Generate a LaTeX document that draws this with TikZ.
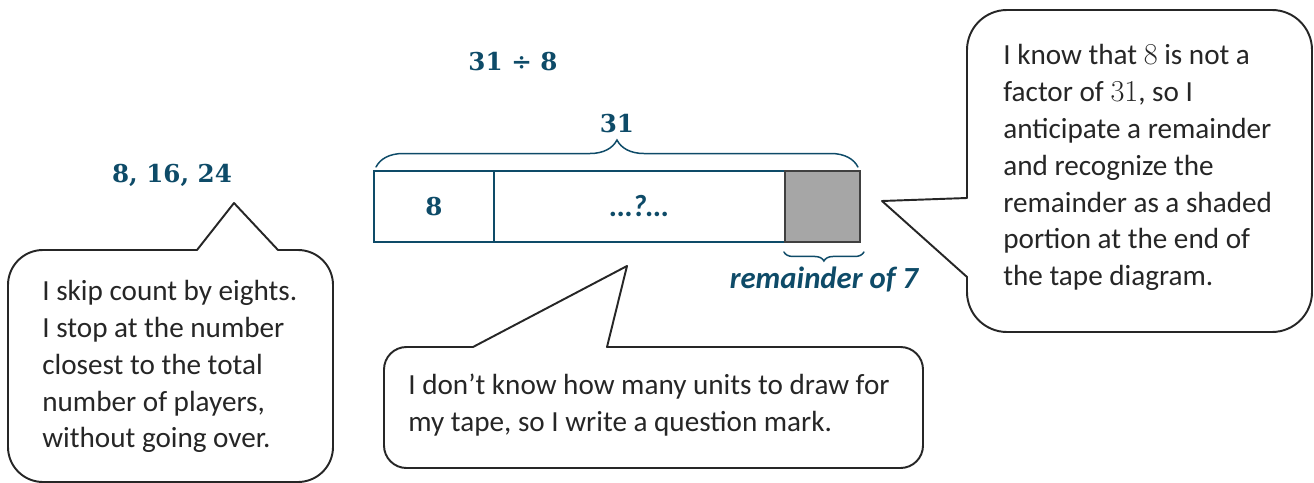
\documentclass[tikz,border=0pt]{standalone}
\usepackage{fontspec}
\setmainfont{Carlito}
\newfontfamily\numfont{DejaVu Serif}
\usetikzlibrary{calc}
\usetikzlibrary{decorations.pathreplacing}

\definecolor{tapeteal}{HTML}{0E4B68}
\definecolor{inkgray}{HTML}{262626}
\definecolor{remfill}{HTML}{A6A6A6}
\definecolor{remline}{HTML}{404040}

\begin{document}
\begin{tikzpicture}[x=0.02cm, y=-0.02cm]

\useasboundingbox (0,0) rectangle (1314,483);

\tikzstyle{head label} = [text=tapeteal, inner sep=0pt, font=\numfont\bfseries\fontsize{14}{17}\selectfont]
\tikzstyle{tape label} = [text=tapeteal, inner sep=0pt, font=\bfseries\itshape\fontsize{17.5}{20}\selectfont]
\tikzstyle{tape cell} = [draw=tapeteal, line width=1.4pt, minimum height=1.42cm, inner sep=0pt, outer sep=0pt]
\tikzstyle{tape brace} = [draw=tapeteal, line width=0.85pt, line cap=round, decorate]
\tikzstyle{bubble} = [draw=inkgray, line width=1.1pt, fill=white, line join=round]
\tikzstyle{bubble text} = [text=inkgray, align=left, anchor=west, inner sep=0pt, font=\fontsize{16.6}{21}\selectfont]

% division

\node [head label] (division) at (513, 62) {31 ÷ 8} ;

% tape

\node [tape cell, minimum width=2.4cm] (eight) at (434, 206.5) {} ;
\node [head label] (eightlabel) at (eight.center) {8} ;
\node [tape cell, minimum width=5.82cm, anchor=west] (unknown) at (eight.east) {} ;
\node [tape label] (unknownlabel) at (unknown.center) {…?…} ;
\node [tape cell, minimum width=1.5cm, anchor=west, draw=remline, fill=remfill] (rem) at (unknown.east) {} ;

% braces

\draw [tape brace, decoration={brace, amplitude=0.54cm}]
	($(eight.north west) + (2, -4)$) -- ($(rem.north east) + (-2, -4)$)
		node [head label, midway, above=0.66cm] (total) {31} ;

\draw [tape brace, decoration={brace, amplitude=0.18cm}]
	($(rem.south east) + (4, 10)$) -- ($(rem.south west) + (-1, 10)$)
		node [tape label, midway, below=0.28cm] (remlabel) {remainder of 7} ;

% skip counting

\node [head label] (skipcount) at (172, 175) {8, 16, 24} ;

% callouts

\draw [bubble] (234, 203) -- (278, 250) [rounded corners=0.7cm] -- (333, 250) -- (333, 482)
	-- (8, 482) -- (8, 250) [sharp corners] -- (197, 250) -- cycle ;

\node [bubble text] (skiptext) at (42, 366.5)
	{I skip count by eights.\\I stop at the number\\closest to the total\\number of players,\\without going over.} ;

\draw [bubble] (627, 266) -- (607, 347) [rounded corners=0.45cm] -- (923, 347) -- (923, 468)
	-- (384, 468) -- (384, 347) [sharp corners] -- (473, 347) -- cycle ;

\node [bubble text] (unknowntext) at (408, 405)
	{I don’t know how many units to draw for\\my tape, so I write a question mark.} ;

\draw [bubble] (882, 201) -- (967, 277) [rounded corners=0.8cm] -- (967, 332) -- (1312, 332)
	-- (1312, 10) -- (967, 10) [sharp corners] -- (967, 198) -- cycle ;

\node [bubble text] (remtext) at (1003, 167.5)
	{I know that $8$ is not a\\factor of $31$, so I\\anticipate a remainder\\and recognize the\\remainder as a shaded\\portion at the end of\\the tape diagram.} ;

\end{tikzpicture}
\end{document}
